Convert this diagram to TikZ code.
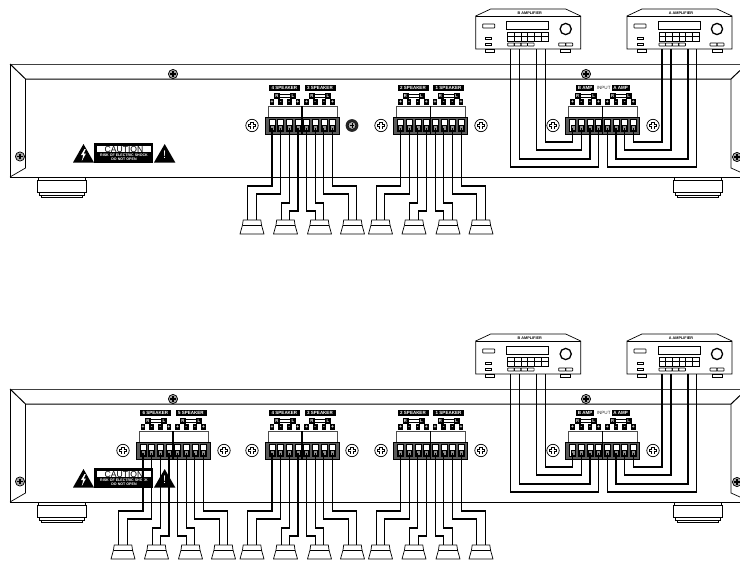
\documentclass[tikz,border=0pt]{standalone}
\usepackage{fontspec}
\setsansfont{Liberation Sans}
\tikzset{every picture/.style={/utils/exec={\sffamily}}}
\usetikzlibrary{calc}

\tikzset{
  partline/.style={line width=.7pt, black},
  wire/.style={line width=1.1pt, black},
  termmark/.style={fill=black, text=white, inner sep=0pt, minimum width=4.6pt, minimum height=6pt, font=\fontsize{5}{5}\selectfont\bfseries},
  termlabel/.style={fill=black, text=white, inner sep=0pt, minimum height=6pt, font=\fontsize{4.5}{5}\selectfont\bfseries},
  amplabel/.style={text=black, inner sep=0pt, font=\fontsize{3.8}{4}\selectfont\bfseries},
  pics/panelscrew/.style={code={
    \draw [partline, fill=white] (0,0) circle (6.2);
    \draw [line width=3.2pt] (-3.6,0) -- (3.6,0) (0,-3.6) -- (0,3.6);
    \draw [white, line width=1.6pt] (-3,0) -- (3,0) (0,-3) -- (0,3);
  }},
  pics/chassisscrew/.style={code={
    \draw [partline, fill=black!35] (0,0) circle (4.6);
    \draw [line width=1.1pt] (-2.8,0) -- (2.8,0) (0,-2.8) -- (0,2.8);
  }},
  pics/darkscrew/.style={code={
    \fill [black!85] (0,0) circle (6.4);
    \draw [fill=black!30, line width=.5pt] (0,0) circle (3.8);
    \draw [line width=.8pt] (-2.4,0) -- (2.4,0) (0,-2.4) -- (0,2.4);
  }},
}

\newcommand{\chassisfoot}[1]{
  \draw [partline] (#1+1,177) -- (#1+1,180) (#1+48,177) -- (#1+48,180);
  \draw [partline, fill=white] (#1,180) rectangle (#1+49,192);
  \draw [partline, fill=white] (#1+2,192) rectangle (#1+47,195);
  \draw [partline, fill=white] (#1+4,195) rectangle (#1+45,197);
}

\newcommand{\termblock}[4]{
  \draw [partline, draw=black!70, fill=white] (268,106) rectangle (302,117);
  \draw [partline, draw=black!70, fill=white] (302,106) rectangle (337,117);
  \draw [partline, fill=black!65] (265,117) rectangle (339,134);
  \draw [line width=1.2pt] (302,106) -- (302,134);
  \node [termlabel, minimum width=#4] (#1-left) at (284.5,88.3) {#2};
  \node [termlabel, minimum width=#4] (#1-right) at (320,88.3) {#3};
  \foreach \g/\r/\l in {a/277/293,b/312/328} {
    \draw [partline] (\r,94.2) -- (\l,94.2) (\r,97) -- (\l,97);
    \node [termmark, minimum width=6pt, font=\fontsize{4.2}{5}\selectfont\bfseries] (#1-\g R) at (\r,95.8) {R};
    \node [termmark, minimum width=6pt, font=\fontsize{4.2}{5}\selectfont\bfseries] (#1-\g L) at (\l,95.8) {L};
  }
  \foreach \i/\s [evaluate=\i as \tx using 272+8.65*\i] in {0/+,1/-,2/-,3/+,4/+,5/-,6/-,7/+} {
    \node [termmark] (#1-m\i) at (\tx,102.3) {\s};
    \draw [line width=.5pt, fill=white] (\tx-3,119.5) rectangle (\tx+3,131);
    \draw [line width=.4pt, fill=black!45] (\tx-2,125) rectangle (\tx+2,130.5);
    \coordinate (#1-t\i) at (\tx,128);
  }
}

\newcommand{\speakerset}[4]{
  \begin{scope}[shift={(#2,0)}]
    \termblock{#1}{#3}{#4}{31pt}
    \foreach \j/\c in {1/252,2/285.5,3/319.5,4/352.5} {
      \draw [partline, fill=white] (\c-8.8,220) -- (\c+8.8,220) -- (\c+9.5,225) -- (\c+12,234) -- (\c-12,234) -- (\c-9.5,225) -- cycle;
      \draw [partline] (\c-9.5,225) -- (\c+9.5,225);
      \coordinate (#1-s\j-a) at (\c-4.3,220);
      \coordinate (#1-s\j-b) at (\c+4.3,220);
    }
    \foreach \i/\d/\p in {0/58/s1-a,1/66/s1-b,2/75/s2-a,3/83/s2-b,4/83/s3-a,5/75/s3-b,6/66/s4-a,7/58/s4-b} {
      \draw [wire] (#1-t\i) -- ++(0,\d) -| (#1-\p);
    }
  \end{scope}
}

\newcommand{\amplifier}[3]{
  \begin{scope}[shift={(#2,0)}]
    \draw [partline, fill=white] (627,49) -- (627,16) -- (642,9) -- (717,9) -- (732,16) -- (732,49) -- cycle;
    \draw [partline] (627,16) -- (732,16);
    \node [amplabel] (#1-name) at (681,12.8) {#3};
    \draw [partline, rounded corners=.5pt] (634,24) rectangle (646,28);
    \draw [partline] (637,37) rectangle (643,39.5) (637,43) rectangle (643,45.5);
    \draw [partline] (658,21) rectangle (700,29);
    \draw [line width=1.3pt] (717,29) circle (5.6);
    \foreach \c in {0,...,5} {
      \draw [partline] (659+6.7*\c,32) rectangle ++(6.7,4.5);
      \draw [partline] (659+6.7*\c,36.5) rectangle ++(6.7,4.5);
    }
    \foreach \c in {0,...,3} {
      \draw [partline, rounded corners=.5pt] (659+6.6*\c,43) rectangle ++(6.6,3);
    }
    \foreach \c in {0,1} {
      \draw [partline, rounded corners=.5pt] (710+7*\c,43) rectangle ++(7,3);
    }
    \draw [partline, fill=white] (637,49) rectangle (646,52) (712,49) rectangle (722,52);
    \foreach \j/\x in {1/662,2/671,3/688,4/696.5} {
      \coordinate (#1-w\j) at (\x,49);
    }
  \end{scope}
}

\newcommand{\panelbase}{
  \draw [partline, draw=black!75] (10,64) -- (740,64);
  \draw [partline] (10,64) -- (10,177) -- (740,177);
  \draw [line width=1pt] (10,64) -- (25.5,79) -- (731,79) -- (740,70.5);
  \draw [partline] (10,177) -- (25.5,168) -- (25.5,79);
  \draw [partline] (731,79) -- (731,168) -- (740,172);
  \pic at (173,74) {chassisscrew};
  \pic at (586,74) {chassisscrew};
  \pic at (20,156.5) {chassisscrew};
  \pic at (737,157) {chassisscrew};
  \chassisfoot{37}
  \chassisfoot{673}
  \fill [black] (73,162.5) -- (83.5,144) -- (94,162.5) -- cycle;
  \fill [white] (84.5,149) -- (81,155) -- (83.2,155) -- (81.8,161) -- (86,153.5) -- (83.8,153.5) -- (85.8,149) -- cycle;
  \fill [black] (94.3,143) rectangle (153,163);
  \fill [white] (97,146) rectangle (151,152.3);
  \node [inner sep=0pt, text=black, font=\fontsize{8.6}{8}\selectfont] (caution) at (124,149.2) {CAUTION};
  \node [inner sep=0pt, text=white, font=\fontsize{3.6}{4}\selectfont\bfseries] (risk) at (124,155.4) {RISK OF ELECTRIC SHOCK};
  \node [inner sep=0pt, text=white, font=\fontsize{3.6}{4}\selectfont\bfseries] (openlabel) at (124,159.4) {DO NOT OPEN};
  \fill [black] (154,162.5) -- (164.7,144) -- (175.3,162.5) -- cycle;
  \node [inner sep=0pt, text=white, font=\fontsize{11}{11}\selectfont] (warnmark) at (164.7,155) {!};
  \foreach \x in {252,381,481,553,653} {
    \pic at (\x,125.5) {panelscrew};
  }
  \speakerset{four}{0}{4 SPEAKER}{3 SPEAKER}
  \speakerset{two}{128.5}{2 SPEAKER}{1 SPEAKER}
  \begin{scope}[shift={(300.7,0)}]
    \termblock{input}{B AMP}{A AMP}{18pt}
  \end{scope}
  \node [inner sep=0pt, text=black!80, font=\fontsize{4.6}{5}\selectfont] (inputlabel) at (603.7,88.3) {INPUT};
  \amplifier{ampb}{-151.3}{B AMPLIFIER}
  \amplifier{ampa}{0}{A AMPLIFIER}
  \foreach \j/\d/\i in {4/93/0,3/101/1,2/110/2,1/118/3} {
    \draw [wire] (ampb-w\j) -- ++(0,\d) -| (input-t\i);
  }
  \foreach \j/\d/\i in {1/93/7,2/101/6,3/110/5,4/118/4} {
    \draw [wire] (ampa-w\j) -- ++(0,\d) -| (input-t\i);
  }
}

\begin{document}
\begin{tikzpicture}[x=1pt, y=-1pt]

  \useasboundingbox (0,0) rectangle (740,562);

  \begin{scope}[name prefix=up-]
    \panelbase
    \pic at (352,125.5) {darkscrew};
  \end{scope}

  \begin{scope}[shift={(0,325)}, name prefix=low-]
    \panelbase
    \pic at (352,125.5) {panelscrew};
    \pic at (123,125.5) {panelscrew};
    \pic at (224,125.5) {panelscrew};
    \speakerset{six}{-129}{6 SPEAKER}{5 SPEAKER}
  \end{scope}

\end{tikzpicture}
\end{document}
